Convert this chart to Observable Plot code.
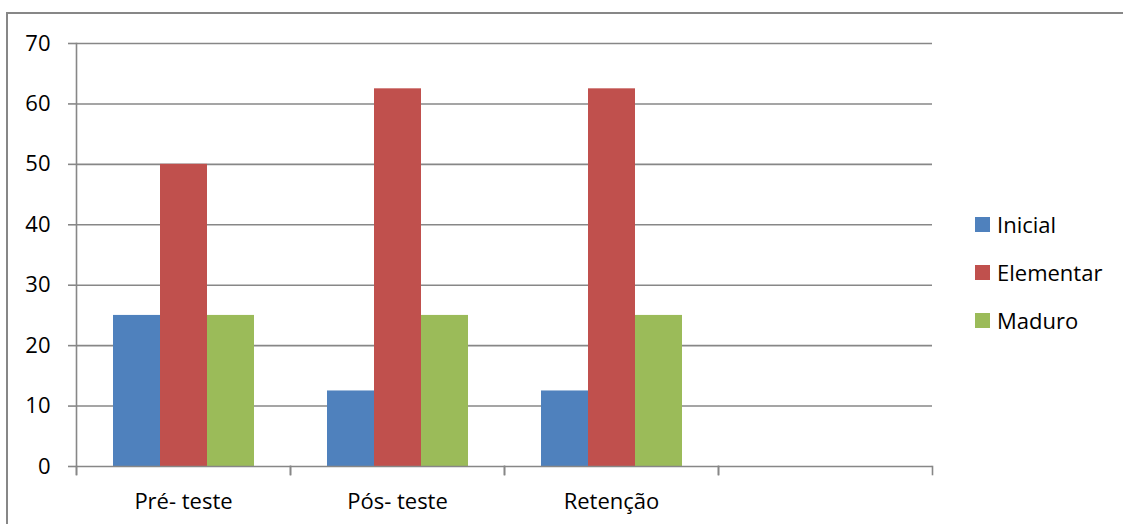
<!DOCTYPE html>
<html>
<head>
<meta charset="utf-8">
<script src="https://cdn.jsdelivr.net/npm/d3@7"></script>
<script src="https://cdn.jsdelivr.net/npm/@observablehq/plot@0.6"></script>
<style>
  html, body { margin: 0; padding: 0; background: #fff; overflow: hidden; }
  #wrap { position: relative; width: 1123px; height: 524px; overflow: hidden; font-family: "Open Sans", sans-serif; }
  #border { position: absolute; left: 6px; top: 12px; width: 1300px; height: 700px; border: 2px solid #878787; pointer-events: none; z-index: 2; }
  .lg { position: absolute; left: 975px; height: 30px; display: flex; align-items: center; font-size: 22px; color: #000; z-index: 3; }
  .lg .sw { width: 15px; height: 15px; margin-right: 7px; }
</style>
</head>
<body>
<div id="wrap"><div id="border"></div></div>
<script>
const categories = ["Pré- teste", "Pós- teste", "Retenção", ""];
const series = ["Inicial", "Elementar", "Maduro"];
const inicial   = [25, 12.5, 12.5];
const elementar = [50, 62.5, 62.5];
const maduro    = [25, 25, 25];
const colors = ["#4F81BD", "#C0504D", "#9BBB59"];
const yTicks = [0, 10, 20, 30, 40, 50, 60, 70];

const seriesValues = [inicial, elementar, maduro];
const data = [];
series.forEach((s, i) => seriesValues[i].forEach((v, j) => data.push({cat: categories[j], series: s, value: v})));

const chart = Plot.plot({
  width: 1123,
  height: 524,
  marginTop: 43,
  marginBottom: 58,
  marginLeft: 76,
  marginRight: 191,
  style: {fontFamily: "'Open Sans', sans-serif", fontSize: "22px", color: "#000", background: "transparent"},
  fx: {domain: categories, padding: 0, label: null, axis: null},
  x: {domain: series, paddingInner: 0, paddingOuter: 0.75, axis: null},
  y: {domain: [0, 70], label: null},
  color: {domain: series, range: colors},
  marks: [
    Plot.ruleY(yTicks.slice(1), {stroke: "#878787", strokeWidth: 1.6}),
    Plot.barY(data, {fx: "cat", x: "series", y: "value", fill: "series"}),
    Plot.ruleY(categories, {fx: d => d, y: () => 0, stroke: "#878787", strokeWidth: 1.6}),
    Plot.frame({anchor: "left", insetTop: 423, insetBottom: -8, stroke: "#878787", strokeWidth: 1.6}),
    Plot.frame({anchor: "right", insetTop: 423, insetBottom: -8, stroke: "#878787", strokeWidth: 1.6}),
    Plot.frame({anchor: "left", insetBottom: -8, stroke: "#878787", strokeWidth: 1.6, fx: () => categories[0]}),
    Plot.axisY(yTicks, {tickSize: 8, tickPadding: 18, stroke: "#878787", strokeWidth: 1.6, fill: "#000", label: null}),
    Plot.axisFx({anchor: "bottom", tickSize: 0, tickPadding: 27, fill: "#000", label: null})
  ]
});
const wrap = document.getElementById("wrap");
chart.style.position = "absolute";
chart.style.left = "0px";
chart.style.top = "0px";
wrap.appendChild(chart);

const centers = [224, 272, 320];
series.forEach((s, i) => {
  const row = document.createElement("div");
  row.className = "lg";
  row.style.top = (centers[i] - 15) + "px";
  const sw = document.createElement("div");
  sw.className = "sw";
  sw.style.background = colors[i];
  const t = document.createElement("span");
  t.textContent = s;
  row.appendChild(sw);
  row.appendChild(t);
  wrap.appendChild(row);
});
</script>
</body>
</html>
